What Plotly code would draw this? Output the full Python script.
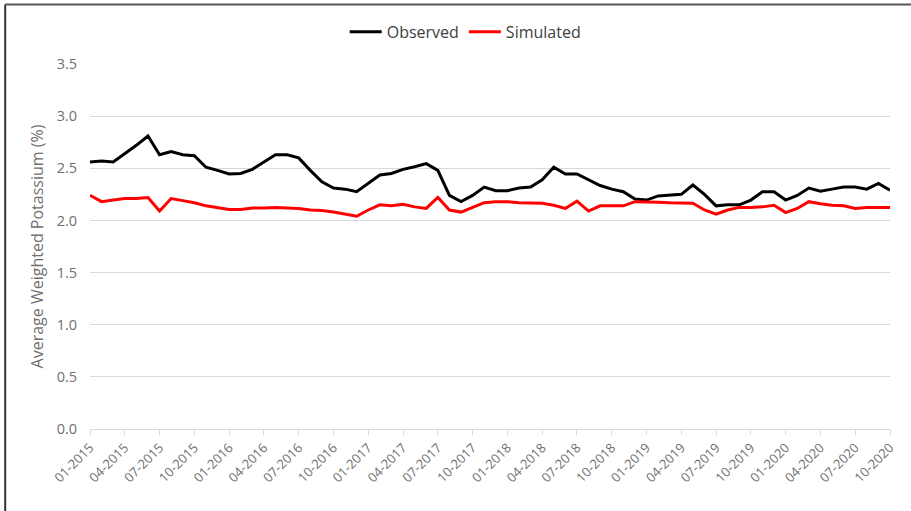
import plotly.graph_objects as go

months = [f"{m:02d}-{y}" for y in range(2015, 2021) for m in range(1, 13)][:70]

observed = [2.56, 2.57, 2.56, 2.64, 2.72, 2.81, 2.63, 2.66, 2.63, 2.62, 2.51, 2.48,
            2.445, 2.45, 2.49, 2.56, 2.63, 2.63, 2.60, 2.48, 2.37, 2.31, 2.30, 2.275,
            2.355, 2.435, 2.45, 2.49, 2.515, 2.545, 2.48, 2.24, 2.18, 2.24, 2.32, 2.285,
            2.285, 2.31, 2.32, 2.39, 2.51, 2.445, 2.445, 2.39, 2.335, 2.30, 2.275, 2.205,
            2.195, 2.235, 2.24, 2.25, 2.34, 2.25, 2.14, 2.15, 2.15, 2.195, 2.275, 2.275,
            2.195, 2.24, 2.31, 2.28, 2.30, 2.32, 2.32, 2.30, 2.355, 2.29]

simulated = [2.24, 2.18, 2.195, 2.21, 2.21, 2.22, 2.09, 2.21, 2.19, 2.17, 2.14, 2.12,
             2.105, 2.105, 2.12, 2.12, 2.125, 2.12, 2.115, 2.10, 2.095, 2.08, 2.06, 2.04,
             2.10, 2.15, 2.14, 2.155, 2.13, 2.115, 2.22, 2.10, 2.08, 2.125, 2.17, 2.18,
             2.18, 2.17, 2.165, 2.165, 2.145, 2.115, 2.185, 2.09, 2.14, 2.14, 2.14, 2.18,
             2.18, 2.175, 2.17, 2.17, 2.165, 2.10, 2.06, 2.10, 2.125, 2.125, 2.13, 2.145,
             2.075, 2.115, 2.18, 2.16, 2.145, 2.14, 2.115, 2.125, 2.125, 2.125]

tick_labels = ["01-2015", "04-2015", "07-2015", "10-2015", "01-2016", "04-2016", "07-2016",
               "10-2016", "01-2017", "04-2017", "07-2017", "10-2017", "01-2018", "04-2018",
               "07-2018", "10-2018", "01-2019", "04-2019", "07-2019", "10-2019", "01-2020",
               "04-2020", "07-2020", "10-2020"]

font_family = "Open Sans, Lato, sans-serif"
gray = "#595959"
light = "#707070"

fig = go.Figure()
fig.add_trace(go.Scatter(x=months, y=observed, mode="lines", name="Observed",
                         line=dict(color="#000000", width=3)))
fig.add_trace(go.Scatter(x=months, y=simulated, mode="lines", name="Simulated",
                         line=dict(color="#FF0000", width=3)))

fig.update_layout(
    width=911, height=511,
    margin=dict(l=90, r=21, t=64, b=82),
    paper_bgcolor="white", plot_bgcolor="white",
    font=dict(family=font_family, color=gray, size=12),
    showlegend=True,
    legend=dict(orientation="h", x=0.469, xanchor="center", y=1.088, yanchor="middle",
                font=dict(size=16, color="#404040"), itemwidth=32, tracegroupgap=0),
    xaxis=dict(type="category", range=[0, 69], tickmode="array",
               tickvals=tick_labels, ticktext=tick_labels, tickangle=-45,
               showgrid=False, showline=True, linecolor="#d9d9d9", linewidth=1,
               ticks="outside", ticklen=5, tickcolor="#d9d9d9",
               tickfont=dict(size=13, color=light), zeroline=False, automargin=False),
    yaxis=dict(range=[0, 3.5], dtick=0.5, tickformat=".1f",
               showgrid=True, gridcolor="#d9d9d9", gridwidth=1, zeroline=False,
               showline=False, ticks="outside", ticklen=9, tickcolor="rgba(0,0,0,0)",
               tickfont=dict(size=14.5, color=light),
               automargin=False,
               title=dict(text="Average Weighted Potassium (%)",
                          font=dict(size=16, color=light), standoff=9)),
    shapes=[
        dict(type="line", xref="paper", yref="paper", x0=-0.106, x1=-0.106, y0=-0.225, y1=1.163,
             line=dict(color="#333333", width=2)),
        dict(type="line", xref="paper", yref="paper", x0=-0.106, x1=1.03, y0=1.163, y1=1.163,
             line=dict(color="#555555", width=2)),
    ],
)

fig.write_html("out.html", config={"displayModeBar": False},
               post_script="document.body.style.margin='0';document.body.style.overflow='hidden';")
